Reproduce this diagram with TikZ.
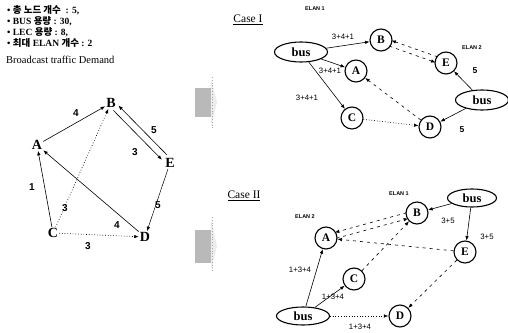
\documentclass[tikz,border=0pt]{standalone}
\usepackage{fontspec}
\setmainfont{Liberation Serif}
\setsansfont{Liberation Sans}
\newfontfamily\kr{Noto Sans CJK KR}
\usetikzlibrary{arrows.meta,shapes.geometric,calc}
\begin{document}
\begin{tikzpicture}[x=1pt,y=-1pt,
 >={Latex[length=4.5pt,width=3.5pt]},
 gnode/.style={font=\fontsize{14}{14}\selectfont\bfseries, inner sep=1pt},
 glab/.style={font=\sffamily\bfseries\fontsize{10}{10}\selectfont, inner sep=0pt},
 cnode/.style={circle, draw, line width=1.1pt, minimum size=22pt, inner sep=0pt, font=\fontsize{11.5}{11.5}\selectfont\bfseries},
 busn/.style={ellipse, draw, line width=1.1pt, minimum width=53pt, minimum height=20pt, inner sep=0pt, font=\fontsize{12.5}{12.5}\selectfont\bfseries},
 elab/.style={font=\sffamily\fontsize{7.8}{7.8}\selectfont, inner sep=0.5pt},
 elan/.style={font=\sffamily\bfseries\fontsize{5.5}{5.5}\selectfont, inner sep=0pt},
 casel/.style={font=\fontsize{11.5}{11.5}\selectfont, inner sep=0pt},
 info/.style={font=\fontsize{9.5}{9.5}\selectfont\bfseries, anchor=west, inner sep=0pt},
 sol/.style={->, line width=0.6pt},
 dsh/.style={->, line width=0.6pt, dash pattern=on 3pt off 4pt},
 dotl/.style={->, line width=0.7pt, dotted},
]
\useasboundingbox (0,0) rectangle (508,332);

% info text
\node[info] (t1) at (7,10) {• {\kr 총 노드 개수} \ : 5,};
\node[info] (t2) at (7,21) {• BUS {\kr 용량} : 30,};
\node[info] (t3) at (7,32) {• LEC {\kr 용량} : 8,};
\node[info] (t4) at (7,43) {• {\kr 최대} ELAN {\kr 개수} : 2};
\node[font=\fontsize{10.5}{10.5}\selectfont, anchor=west, inner sep=0pt] (t5) at (6,60) {Broadcast traffic Demand};

% left graph
\node[gnode] (A) at (37,145) {A};
\node[gnode] (B) at (111,103) {B};
\node[gnode] (E) at (170,163) {E};
\node[gnode] (C) at (53,233) {C};
\node[gnode] (D) at (145,237) {D};
\draw[sol] (A) -- (B);
\draw[sol, shorten <=7pt, shorten >=8pt] ($(B)!3.5pt!-90:(E)$) -- ($(E)!3.5pt!90:(B)$);
\draw[sol, shorten <=8pt, shorten >=7pt] ($(E)!3.5pt!-90:(B)$) -- ($(B)!3.5pt!90:(E)$);
\draw[sol, line width=0.5pt] (E) -- (D);
\draw[sol] (C) -- (A);
\draw[sol] (D) -- (A);
\draw[dotl] (C) -- (B);
\draw[dotl] (C) -- (D);
\node[glab] (l1) at (76,113) {4};
\node[glab] (l2) at (154,130) {5};
\node[glab] (l3) at (135,152) {3};
\node[glab] (l4) at (32,187) {1};
\node[glab] (l5) at (65,208) {3};
\node[glab] (l6) at (117,225) {4};
\node[glab] (l7) at (158,205) {5};
\node[glab] (l8) at (88,246) {3};

% gray block arrows
\fill[gray!15] (211,79) -- (217,102) -- (211,128) -- cycle;
\fill[gray!55] (195,88) rectangle (211,117);
\draw[gray!70, line width=0.8pt, dotted] (212,77) -- (212,130);
\fill[gray!15] (211,219) -- (217,246) -- (211,270) -- cycle;
\fill[gray!55] (195,230) rectangle (211,263);
\draw[gray!70, line width=0.8pt, dotted] (212,217) -- (212,271);

% Case I
\node[casel] (c1) at (248,20) {\underline{Case I}};
\node[elan] (e11) at (315,9) {ELAN 1};
\node[elan] (e12) at (472,48) {ELAN 2};
\node[busn] (busL) at (301,52) {bus};
\node[cnode] (B1) at (381,40) {B};
\node[cnode] (A1) at (356,71) {A};
\node[cnode] (C1) at (352,118) {C};
\node[cnode] (D1) at (430,127) {D};
\node[cnode] (E1) at (446,63) {E};
\node[busn] (busR) at (482,100) {bus};
\draw[sol] (busL) -- (B1);
\draw[sol] (busL) -- (A1);
\draw[sol] (busL) -- (C1);
\draw[dotl] (C1) -- (D1);
\draw[dsh, shorten <=10pt, shorten >=10pt] ($(B1)!3pt!-90:(E1)$) -- ($(E1)!3pt!90:(B1)$);
\draw[dsh, shorten <=10pt, shorten >=10pt] ($(E1)!3pt!-90:(B1)$) -- ($(B1)!3pt!90:(E1)$);
\draw[dsh] (D1) -- (A1);
\draw[sol] (busR) -- (E1);
\draw[sol] (busR) -- (D1);
\node[elab, fill=white] (la) at (343,37) {3+4+1};
\node[elab] (lb) at (330,71) {3+4+1};
\node[elab] (lc) at (307,98) {3+4+1};
\node[glab, font=\sffamily\bfseries\fontsize{8.5}{8.5}\selectfont] (ld) at (475,71) {5};
\node[glab, font=\sffamily\bfseries\fontsize{8.5}{8.5}\selectfont] (le) at (462,130) {5};

% Case II
\node[casel] (c2) at (244,196) {\underline{Case II}};
\node[elan] (e21) at (399,194) {ELAN 1};
\node[elan] (e22) at (305,217) {ELAN 2};
\node[busn, minimum width=49pt, minimum height=18pt] (busT) at (472,198) {bus};
\node[cnode] (B2) at (417,213) {B};
\node[cnode] (A2) at (326,238) {A};
\node[cnode] (E2) at (465,252) {E};
\node[cnode] (C2) at (354,279) {C};
\node[cnode] (D2) at (400,316) {D};
\node[busn, minimum height=18pt] (busB) at (303,316) {bus};
\draw[sol] (busT) -- (B2);
\draw[sol] (busT) -- (E2);
\draw[sol] (busB) -- (A2);
\draw[sol] (busB) -- (C2);
\draw[dotl] (busB) -- (D2);
\draw[dsh, shorten <=10pt, shorten >=10pt] ($(A2)!3pt!-90:(B2)$) -- ($(B2)!3pt!90:(A2)$);
\draw[dsh, shorten <=10pt, shorten >=10pt] ($(B2)!3pt!-90:(A2)$) -- ($(A2)!3pt!90:(B2)$);
\draw[dsh] (E2) -- (A2);
\draw[dsh] (C2) -- (B2);
\draw[dsh] (E2) -- (D2);
\node[elab] (lf) at (448,221) {3+5};
\node[elab] (lg) at (487,237) {3+5};
\node[elab] (lh) at (300,270) {1+3+4};
\node[elab] (li) at (333,297) {1+3+4};
\node[elab] (lj) at (360,327) {1+3+4};
\end{tikzpicture}
\end{document}
